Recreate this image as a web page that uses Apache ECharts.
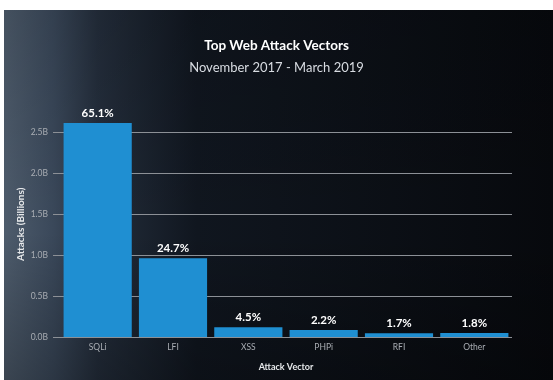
<!DOCTYPE html>
<html><head><meta charset="utf-8">
<script src="https://cdn.jsdelivr.net/npm/echarts@6/dist/echarts.min.js"></script>
<style>html,body{margin:0;padding:0;background:#fff}#c{width:553px;height:380px}</style>
</head><body><div id="c"></div>
<script>
const categories = ['SQLi', 'LFI', 'XSS', 'PHPi', 'RFI', 'Other'];
const attacksBillions = [2.61, 0.96, 0.12, 0.085, 0.045, 0.05];
const shareLabels = ['65.1%', '24.7%', '4.5%', '2.2%', '1.7%', '1.8%'];
const yTicks = [0, 0.5, 1.0, 1.5, 2.0, 2.5];

const chart = echarts.init(document.getElementById('c'));
chart.setOption({
  backgroundColor: 'transparent',
  graphic: [
    { type: 'rect', z: -10, silent: true, shape: { x: 4, y: 10, width: 549, height: 370 },
      style: { fill: new echarts.graphic.LinearGradient(0, 0, 1, 0, [
        { offset: 0, color: '#4e5c6c' },
        { offset: 0.09, color: '#3a485a' },
        { offset: 0.17, color: '#242e3c' },
        { offset: 0.35, color: '#10161f' },
        { offset: 1, color: '#07090d' }]) } },
    { type: 'rect', z: -9, silent: true, shape: { x: 4, y: 10, width: 549, height: 370 },
      style: { fill: new echarts.graphic.LinearGradient(0, 0, 0, 1, [
        { offset: 0, color: 'rgba(0,0,0,0.12)' },
        { offset: 0.6, color: 'rgba(0,0,0,0)' },
        { offset: 1, color: 'rgba(0,0,0,0.25)' }]) } }
  ],
  title: {
    text: 'Top Web Attack Vectors',
    subtext: 'November 2017 - March 2019',
    left: 'center', top: 34, itemGap: 8,
    textStyle: { color: '#ffffff', fontFamily: 'Lato', fontWeight: 'bold', fontSize: 13.5 },
    subtextStyle: { color: '#d8dce2', fontFamily: 'Lato', fontSize: 13 }
  },
  grid: { left: 60, right: 41, top: 111.5, bottom: 43 },
  xAxis: {
    type: 'category', data: categories,
    name: 'Attack Vector', nameLocation: 'middle', nameGap: 26,
    nameTextStyle: { color: '#e6e8ea', fontFamily: 'Lato', fontWeight: 'bold', fontSize: 9 },
    axisLine: { show: false }, axisTick: { show: false },
    axisLabel: { color: '#a9adb3', fontFamily: 'Lato', fontSize: 8.5, margin: 6 }
  },
  yAxis: {
    type: 'value', min: 0, max: 2.75, interval: 0.5,
    name: 'Attacks (Billions)', nameLocation: 'middle', nameGap: 34, nameRotate: 90,
    nameMoveOverlap: false,
    nameTextStyle: { color: '#e6e8ea', fontFamily: 'Lato', fontWeight: 'bold', fontSize: 10 },
    axisLine: { show: false },
    axisTick: { show: true, length: 7, lineStyle: { color: '#8c9096', width: 1 } },
    axisLabel: { color: '#a9adb3', fontFamily: 'Lato', fontSize: 8.5, margin: 12, showMaxLabel: false,
      formatter: v => yTicks.includes(Math.round(v * 10) / 10) ? v.toFixed(1) + 'B' : '' },
    splitLine: { show: true, showMaxLine: false, lineStyle: { color: '#8c9096', width: 1 } }
  },
  series: [{
    type: 'bar', data: attacksBillions, barCategoryGap: '9.5%',
    itemStyle: { color: '#1f8fd2' },
    label: { show: true, position: 'top', distance: 4, color: '#ffffff', fontFamily: 'Lato',
      fontWeight: 'bold', fontSize: 11.5, formatter: p => shareLabels[p.dataIndex] }
  }]
});
</script></body></html>
